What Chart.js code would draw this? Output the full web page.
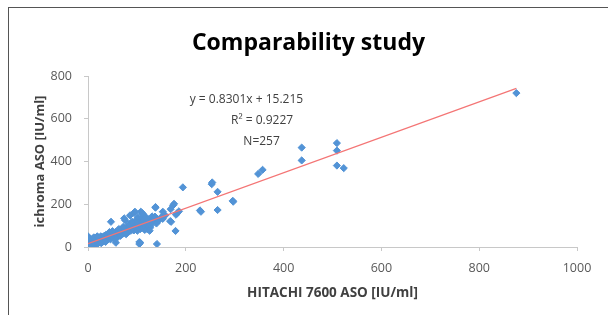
<!DOCTYPE html>
<html lang="en">
<head>
  <meta charset="UTF-8">
  <title>Comparability study</title>
  <script src="https://cdn.jsdelivr.net/npm/chart.js"></script>
  <style>
    body { margin: 0; background: #fff; }
    .frame {
      position: absolute;
      left: 8px; top: 7px;
      width: 600px; height: 308px;
      border-left: 1px solid #555;
      border-top: 1px solid #555;
    }
    canvas { display: block; }
  </style>
</head>
<body>
  <div class="frame"><canvas id="chart" width="599" height="307"></canvas></div>
  <script>
    // HITACHI 7600 ASO (x) vs ichroma ASO (y)
    const hitachi = [
      0, 0, 0, 1, 2, 2, 3, 3, 4, 5,
      5, 6, 6, 7, 8, 8, 9, 10, 10, 10,
      11, 12, 12, 13, 14, 14, 15, 15, 16, 16,
      17, 18, 18, 19, 20, 20, 20, 21, 22, 22,
      23, 24, 24, 25, 25, 26, 26, 27, 28, 28,
      29, 30, 30, 30, 31, 32, 32, 33, 34, 34,
      35, 35, 36, 36, 37, 38, 38, 39, 40, 40,
      40, 41, 42, 42, 43, 44, 44, 45, 46, 46,
      47, 47, 48, 48, 49, 50, 50, 51, 52, 52,
      53, 54, 54, 55, 56, 56, 57, 57, 58, 58,
      59, 60, 60, 61, 62, 62, 63, 64, 65, 65,
      66, 67, 68, 68, 69, 70, 70, 70, 71, 72,
      73, 74, 74, 75, 76, 76, 77, 78, 79, 80,
      80, 80, 81, 82, 83, 84, 85, 86, 86, 87,
      88, 88, 89, 90, 90, 91, 92, 92, 93, 94,
      94, 95, 96, 96, 97, 98, 98, 99, 100, 100,
      100, 101, 102, 103, 104, 105, 105, 105, 106, 106,
      107, 107, 108, 108, 109, 110, 110, 111, 111, 112,
      113, 113, 114, 115, 115, 116, 117, 118, 119, 120,
      121, 122, 124, 125, 127, 128, 131, 133, 135, 137,
      138, 138, 140, 141, 142, 145, 150, 153, 153, 158,
      169, 168, 170, 174, 176, 179, 180, 183, 186, 194,
      229, 231, 253, 254, 265, 265, 296, 297, 348, 357,
      437, 437, 509, 509, 509, 523, 876,
      3, 9, 12, 19, 27, 36, 44, 50, 58, 63,
      66, 72, 78, 84, 90, 102, 118, 123, 126, 129
    ];
    const ichroma = [
      10, 15, 50, 20, 12, 25, 8, 18, 30, 14,
      22, 10, 35, 18, 12, 26, 20, 15, 30, 40,
      22, 10, 18, 28, 35, 20, 14, 25, 30, 42,
      20, 26, 36, 16, 24, 30, 45, 18, 28, 38,
      32, 22, 44, 30, 36, 26, 50, 34, 28, 40,
      38, 24, 32, 46, 36, 30, 42, 52, 34, 40,
      28, 46, 38, 56, 42, 32, 48, 40, 36, 44,
      54, 46, 38, 60, 50, 42, 56, 48, 36, 52,
      118, 60, 44, 56, 50, 46, 62, 54, 40, 66,
      58, 50, 64, 56, 48, 70, 20, 60, 54, 66,
      62, 50, 70, 58, 64, 74, 56, 68, 60, 76,
      64, 72, 58, 80, 66, 62, 74, 86, 70, 78,
      64, 134, 84, 72, 125, 80, 68, 88, 76, 70,
      82, 94, 78, 86, 72, 92, 80, 148, 100, 84,
      76, 96, 90, 82, 104, 94, 110, 86, 98, 159,
      78, 102, 165, 90, 112, 84, 120, 96, 106, 90,
      130, 76, 100, 118, 88, 14, 23, 108, 96, 126,
      20, 84, 165, 112, 100, 92, 136, 158, 104, 120,
      153, 88, 110, 98, 128, 80, 114, 102, 92, 120,
      84, 106, 96, 112, 90, 100, 143, 120, 136, 142,
      187, 184, 110, 14, 130, 125, 140, 165, 132, 148,
      177, 121, 118, 195, 202, 75, 151, 160, 167, 279,
      171, 165, 294, 302, 258, 173, 216, 212, 342, 361,
      465, 405, 486, 451, 381, 369, 720,
      40, 32, 45, 50, 18, 24, 70, 74, 40, 84,
      52, 94, 60, 106, 118, 140, 140, 130, 76, 116
    ];
    // linear trendline end points (y = 0.8301x + 15.215)
    const trendX = [0, 876];
    const trendY = [15.2, 742.4];
    const xTicks = [0, 200, 400, 600, 800, 1000];
    const yTicks = [0, 200, 400, 600, 800];
    const fitLabels = ['y = 0.8301x + 15.215', 'R² = 0.9227', 'N=257'];
    const chartTitle = 'Comparability study';

    const font = "'Open Sans', 'Noto Sans', sans-serif";

    const points = hitachi.map((x, i) => ({ x: x, y: ichroma[i] }));
    const trend = trendX.map((x, i) => ({ x: x, y: trendY[i] }));

    // title centred on the whole frame + equation text anchored in data units
    const texts = {
      id: 'texts',
      afterDatasetsDraw(chart) {
        const { ctx, scales: { x, y } } = chart;
        ctx.save();
        ctx.textAlign = 'center';
        ctx.textBaseline = 'middle';
        ctx.font = "bold 23px " + font;
        ctx.fillStyle = '#000';
        ctx.fillText(chartTitle, chart.width / 2, 35);

        const anchors = [[324, 692], [356, 593], [355, 495]];
        ctx.font = "12px " + font;
        ctx.fillStyle = '#404040';
        fitLabels.forEach((t, i) => {
          ctx.fillText(t, x.getPixelForValue(anchors[i][0]), y.getPixelForValue(anchors[i][1]));
        });
        ctx.restore();
      }
    };

    new Chart(document.getElementById('chart'), {
      type: 'scatter',
      data: {
        datasets: [
          {
            label: 'ASO',
            data: points,
            pointStyle: 'rectRot',
            pointRadius: 3.6,
            pointBorderWidth: 1,
            backgroundColor: '#5293d6',
            borderColor: '#5293d6',
            order: 2
          },
          {
            label: 'Linear',
            type: 'line',
            data: trend,
            showLine: true,
            pointRadius: 0,
            borderColor: '#f47575',
            borderWidth: 1.2,
            fill: false,
            order: 1
          }
        ]
      },
      options: {
        responsive: false,
        animation: false,
        layout: { padding: { left: 0, right: 31, top: 68, bottom: 0 } },
        plugins: {
          legend: { display: false },
          tooltip: { enabled: false },
          title: { display: false }
        },
        scales: {
          x: {
            type: 'linear',
            min: 0, max: 1000,
            afterBuildTicks(scale) { scale.ticks = xTicks.map(v => ({ value: v })); },
            afterFit(scale) { scale.height = 68; },
            grid: { drawOnChartArea: false, drawTicks: true, tickLength: 4, color: '#c8c8c8' },
            border: { color: '#c8c8c8' },
            ticks: { color: '#595959', padding: 10, font: { family: font, size: 12.5 }, callback: v => String(v) },
            title: {
              display: true,
              text: 'HITACHI 7600 ASO [IU/ml]',
              color: '#404040',
              font: { family: font, size: 13.5, weight: 'bold' },
              padding: { top: 4, bottom: 14 }
            }
          },
          y: {
            type: 'linear',
            min: 0, max: 800,
            afterBuildTicks(scale) { scale.ticks = yTicks.map(v => ({ value: v })); },
            afterFit(scale) { scale.width = 79; },
            grid: { drawOnChartArea: false, drawTicks: true, tickLength: 4, color: '#c8c8c8' },
            border: { color: '#c8c8c8' },
            ticks: { color: '#595959', padding: 12, font: { family: font, size: 12.5 }, callback: v => String(v) },
            title: {
              display: true,
              text: 'ichroma ASO [IU/ml]',
              color: '#404040',
              font: { family: font, size: 13, weight: 'bold' },
              padding: { top: 23, bottom: 4 }
            }
          }
        }
      },
      plugins: [texts]
    });
  </script>
</body>
</html>
